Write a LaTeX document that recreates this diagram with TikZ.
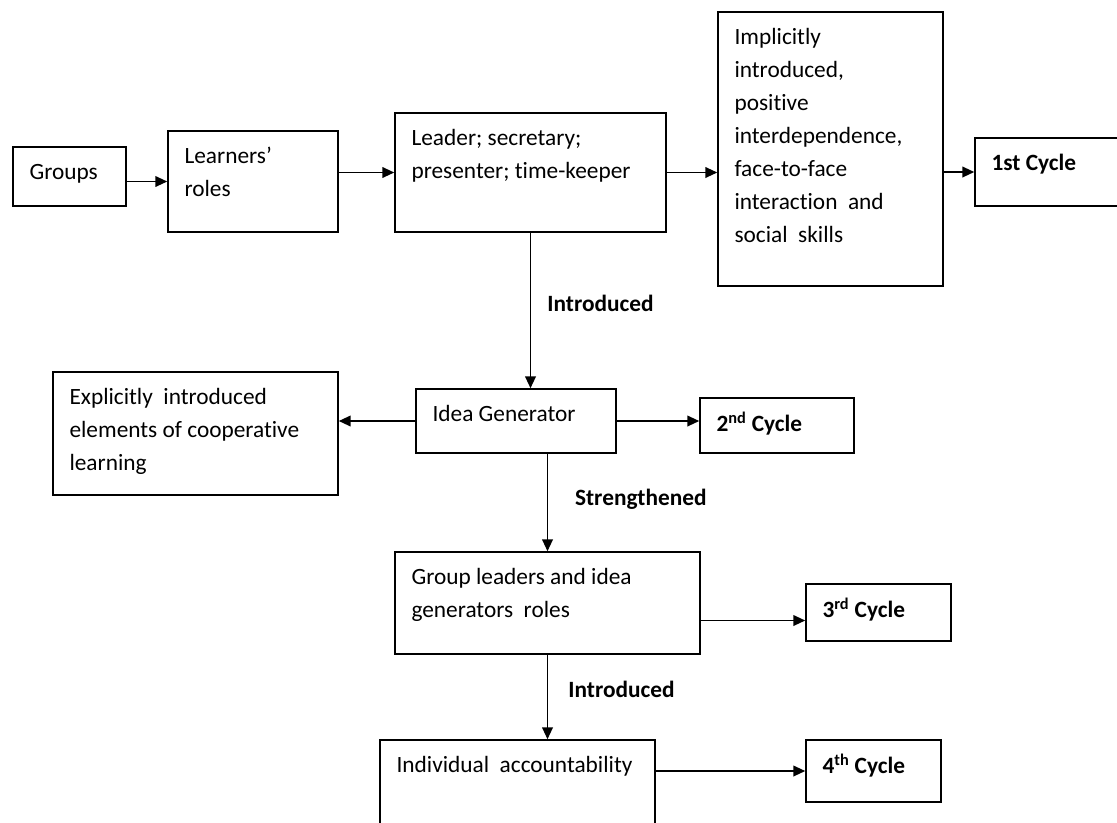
\documentclass[tikz,border=0pt]{standalone}
\usepackage{fontspec}
\setmainfont{Carlito}[Ligatures=NoCommon]
\usepackage{tikz}
\usetikzlibrary{arrows.meta}

\newcommand\topstrut{\rule{0pt}{0.8em}}

\begin{document}
\begin{tikzpicture}[x=0.75pt, y=-0.75pt,
  box/.style={draw, line width=1.1pt, inner sep=0pt},
  txt/.style={font=\fontsize{17.5}{24.75}\selectfont, align=left, inner sep=0pt,
    anchor=north west, xshift=12.75pt, yshift=-10.5pt},
  arr/.style={line width=1.4pt, -{Triangle[length=9pt, width=8pt]}},
  lbl/.style={font=\bfseries\fontsize{17.5}{21}\selectfont, inner sep=0pt, right}]

\useasboundingbox (0,0) rectangle (1117,822);

% First cycle row
\node[box, minimum width=113*0.75pt, minimum height=59*0.75pt,
  label={[txt]north west:{\topstrut Groups}}] (grp) at (69.5,176.5) {};
\node[box, minimum width=170*0.75pt, minimum height=101*0.75pt,
  label={[txt]north west:{\topstrut Learners’\\roles}}] (lrn) at (253,181.5) {};
\node[box, minimum width=271*0.75pt, minimum height=119*0.75pt,
  label={[txt]north west:{\topstrut Leader; secretary;\\presenter; time-keeper}}] (ldr) at (530.5,172.5) {};
\node[box, minimum width=225*0.75pt, minimum height=274*0.75pt,
  label={[txt]north west:{\topstrut Implicitly\\introduced,\\positive\\interdependence,\\face-to-face\\interaction\ \ and\\social\ \ skills}}] (imp) at (830.5,149) {};
\node[box, minimum width=150*0.75pt, minimum height=68*0.75pt,
  label={[txt]north west:{\topstrut\bfseries 1st Cycle}}] (cyc1) at (1050,172) {};

% Second cycle
\node[box, minimum width=285*0.75pt, minimum height=123*0.75pt,
  label={[txt]north west:{\topstrut Explicitly\ \ introduced\\elements of cooperative\\learning}}] (expl) at (195.5,433.5) {};
\node[box, minimum width=200*0.75pt, minimum height=64*0.75pt,
  label={[txt]north west:{\topstrut Idea Generator}}] (idea) at (516,421) {};
\node[box, minimum width=154*0.75pt, minimum height=55*0.75pt,
  label={[txt]north west:{\topstrut\bfseries 2\textsuperscript{nd} Cycle}}] (cyc2) at (777,425.5) {};

% Third cycle
\node[box, minimum width=305*0.75pt, minimum height=102*0.75pt,
  label={[txt]north west:{\topstrut Group leaders and idea\\generators\ \ roles}}] (gl) at (547.5,603) {};
\node[box, minimum width=145*0.75pt, minimum height=57*0.75pt,
  label={[txt]north west:{\topstrut\bfseries 3\textsuperscript{rd} Cycle}}] (cyc3) at (878.5,612.5) {};

% Fourth cycle
\node[box, minimum width=275*0.75pt, minimum height=120*0.75pt,
  label={[txt]north west:{\topstrut Individual\ \ accountability}}] (ind) at (517.5,800) {};
\node[box, minimum width=135*0.75pt, minimum height=62*0.75pt,
  label={[txt]north west:{\topstrut\bfseries 4\textsuperscript{th} Cycle}}] (cyc4) at (873.5,771) {};

% Arrows
\draw[arr] (lrn.west -| grp.east) -- (lrn.west);
\draw[arr] (ldr.west -| lrn.east) -- (ldr.west);
\draw[arr] (ldr.east) -- (ldr.east -| imp.west);
\draw[arr] (cyc1.west -| imp.east) -- (cyc1.west);
\draw[arr] (ldr.south) -- (ldr.south |- idea.north)
  node[lbl, midway, xshift=12pt, yshift=5.25pt] {Introduced};
\draw[arr] (idea.west) -- (idea.west -| expl.east);
\draw[arr] (idea.east) -- (idea.east -| cyc2.west);
\draw[arr] (gl.north |- idea.south) -- (gl.north)
  node[lbl, midway, xshift=20pt, yshift=2.4pt] {Strengthened};
\draw[arr] ([yshift=-6pt]gl.east |- cyc3.west) -- ([yshift=-6pt]cyc3.west);
\draw[arr] (gl.south) -- (gl.south |- ind.north)
  node[lbl, midway, xshift=15pt, yshift=6pt] {Introduced};
\draw[arr] (ind.east |- cyc4.west) -- (cyc4.west);

\end{tikzpicture}
\end{document}
